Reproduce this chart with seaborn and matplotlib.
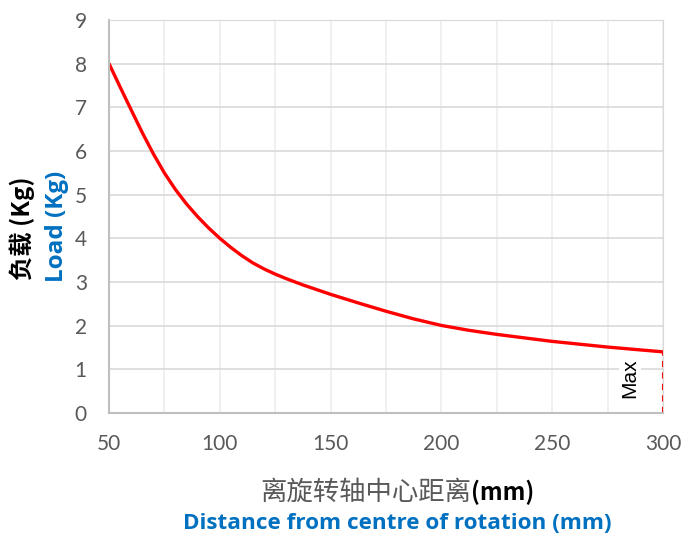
import matplotlib
matplotlib.use("Agg")
import matplotlib.pyplot as plt
import seaborn as sns
import pandas as pd

# values
distance_mm = [50, 55, 60, 65, 70, 75, 80, 85, 90, 95, 100, 105, 110, 115, 120, 125,
               130, 137.5, 150, 162.5, 175, 187.5, 200, 212.5, 225, 237.5, 250,
               262.5, 275, 287.5, 300]
load_kg = [8.0, 7.465, 6.94, 6.42, 5.935, 5.495, 5.115, 4.785, 4.495, 4.235, 4.0,
           3.79, 3.60, 3.434, 3.298, 3.18, 3.076, 2.933, 2.717, 2.52, 2.33, 2.155,
           2.005, 1.893, 1.80, 1.72, 1.64, 1.575, 1.51, 1.455, 1.40]
max_distance = 300
max_load = 1.4

xticks = [50, 100, 150, 200, 250, 300]
yticks = list(range(0, 10))

df = pd.DataFrame({"distance": distance_mm, "load": load_kg})

sns.set_style("white")
plt.rcParams["font.family"] = ["Lato", "Noto Sans CJK SC", "DejaVu Sans"]

fig = plt.figure(figsize=(6.84, 5.37), dpi=100)
ax = fig.add_axes([0.1594, 0.2309, 0.9693 - 0.1594, 0.9628 - 0.2309])

sns.lineplot(data=df, x="distance", y="load", color="#ff0000", lw=2.4, ax=ax)
ax.plot([max_distance, max_distance], [0, max_load], color="#ff0000", lw=1.5,
        ls=(0, (3, 2.5)))

ax.set_xlim(50, 300)
ax.set_ylim(0, 9)
ax.set_xticks(xticks)
ax.set_xticks([75, 125, 175, 225, 275], minor=True)
ax.set_yticks(yticks)
ax.grid(axis="y", color="#d9d9d9", lw=1.2)
ax.grid(axis="x", which="both", color="#eeeeee", lw=1.2)
ax.set_axisbelow(True)
ax.tick_params(length=0, which="both", labelsize=15, labelcolor="#595959")
ax.tick_params(axis="y", pad=16)
ax.tick_params(axis="x", pad=15)

for side in ["top", "right"]:
    ax.spines[side].set_color("#d9d9d9")
for side in ["left", "bottom"]:
    ax.spines[side].set_color("#bfbfbf")
    ax.spines[side].set_linewidth(1.5)

ax.set_xlabel("")
ax.set_ylabel("")

ax.text(285, 0.8, "Max", rotation=90, ha="center", va="center", fontsize=15,
        family=["Liberation Sans"], color="black",
        bbox=dict(facecolor="white", edgecolor="none", pad=1))

# x axis title, two lines
fig.text(0.689, 0.083, "离旋转轴中心距离", ha="right", va="center", fontsize=19,
         color="#595959", family=["Noto Sans CJK SC"])
fig.text(0.689, 0.083, "(mm)", ha="left", va="center", fontsize=17,
         color="black", fontweight="bold", family=["Noto Sans CJK SC"])
fig.text(0.5805, 0.026, "Distance from centre of rotation (mm)", ha="center",
         va="center", fontsize=16.2, color="#0070c0", fontweight="bold",
         family=["Open Sans"])

# y axis title, two lines
fig.text(0.032, 0.575, "负载 (Kg)", rotation=90, ha="center", va="center",
         fontsize=17.5, color="black", fontweight="bold", family=["Noto Sans CJK SC"])
fig.text(0.083, 0.578, "Load (Kg)", rotation=90, ha="center", va="center",
         fontsize=17.5, color="#0070c0", fontweight="bold", family=["Open Sans"])

fig.savefig("out.png", dpi=100)
